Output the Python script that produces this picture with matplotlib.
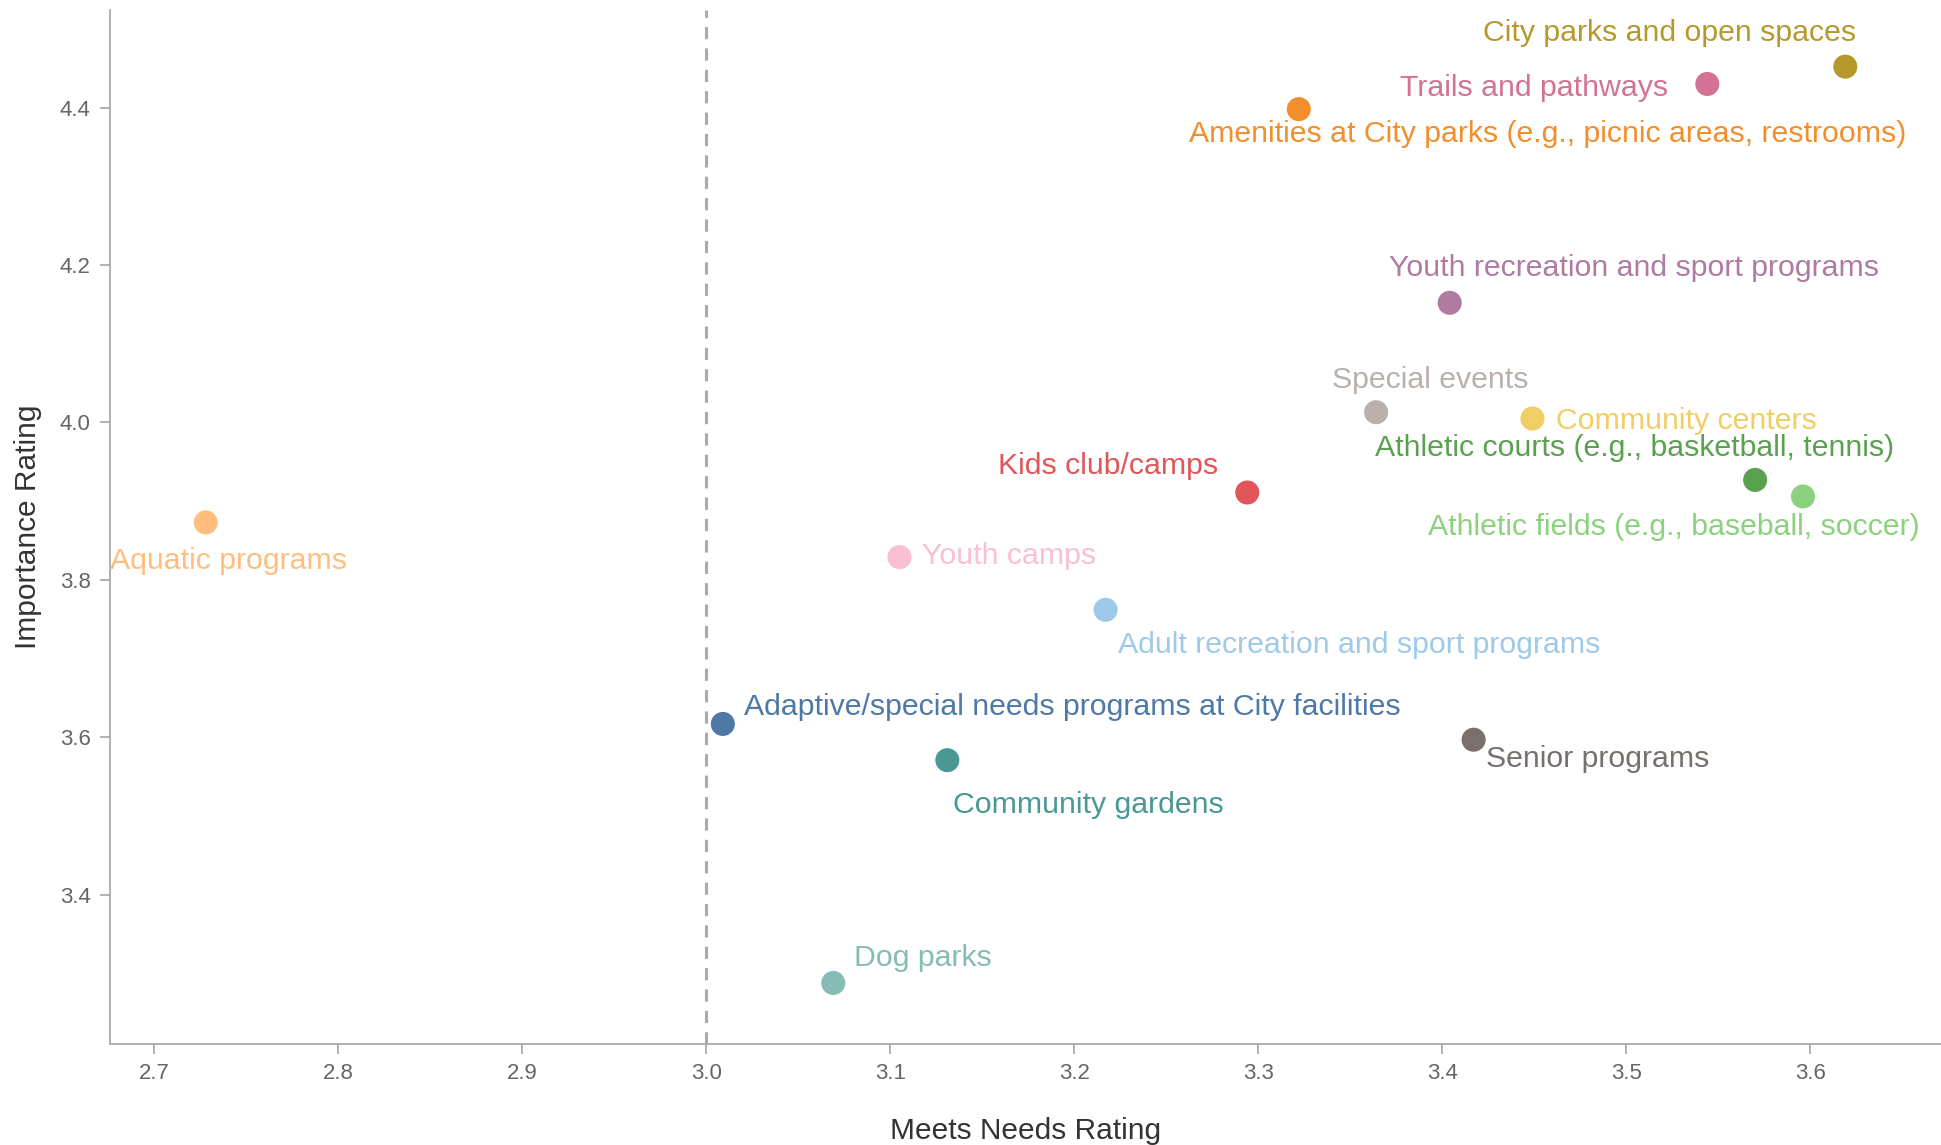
import matplotlib
matplotlib.use('Agg')
from matplotlib import pyplot as plt

plt.rcParams['font.family'] = ['Liberation Sans', 'DejaVu Sans']

services = ['City parks and open spaces', 'Trails and pathways',
            'Amenities at City parks (e.g., picnic areas, restrooms)',
            'Youth recreation and sport programs', 'Special events',
            'Community centers', 'Athletic courts (e.g., basketball, tennis)',
            'Athletic fields (e.g., baseball, soccer)', 'Kids club/camps',
            'Aquatic programs', 'Youth camps', 'Adult recreation and sport programs',
            'Adaptive/special needs programs at City facilities',
            'Community gardens', 'Senior programs', 'Dog parks']
meets_needs = [3.619, 3.544, 3.322, 3.404, 3.364, 3.449, 3.570, 3.596,
               3.294, 2.728, 3.105, 3.217, 3.009, 3.131, 3.417, 3.069]
importance = [4.452, 4.430, 4.398, 4.152, 4.013, 4.005, 3.927, 3.906,
              3.911, 3.873, 3.829, 3.762, 3.617, 3.571, 3.597, 3.288]
colors = ['#b6992d', '#d37295', '#f28e2b', '#b07aa1', '#bab0ac', '#f1ce63',
          '#59a14f', '#8cd17d', '#e15759', '#ffbe7d', '#fabfd2', '#9ecae9',
          '#4e79a7', '#499894', '#79706e', '#86bcb6']

# label placement: (dx, dy) in points, horizontal alignment
label_pos = {
    'City parks and open spaces': (8, 24, 'right'),
    'Trails and pathways': (-28, -3, 'right'),
    'Amenities at City parks (e.g., picnic areas, restrooms)': (-79, -18, 'left'),
    'Youth recreation and sport programs': (-44, 25, 'left'),
    'Special events': (-32, 23, 'left'),
    'Community centers': (17, -2, 'left'),
    'Athletic courts (e.g., basketball, tennis)': (100, 23, 'right'),
    'Athletic fields (e.g., baseball, soccer)': (84, -22, 'right'),
    'Kids club/camps': (-21, 19, 'right'),
    'Aquatic programs': (-69, -28, 'left'),
    'Youth camps': (16, 1, 'left'),
    'Adult recreation and sport programs': (9, -25, 'left'),
    'Adaptive/special needs programs at City facilities': (15, 12, 'left'),
    'Community gardens': (4, -32, 'left'),
    'Senior programs': (9, -14, 'left'),
    'Dog parks': (15, 18, 'left'),
}

fig = plt.figure(figsize=(19.41, 11.45), dpi=100)
ax = fig.add_axes([0.0567, 0.0886, 0.9433, 0.9027])

ax.axvline(3.0, color='#aaaaaa', linestyle=(0, (4, 3)), linewidth=2.2, zorder=1)
ax.scatter(meets_needs, importance, s=300, c=colors, edgecolors='none', zorder=3)

for name, x, y, col in zip(services, meets_needs, importance, colors):
    dx, dy, ha = label_pos[name]
    ax.annotate(name, (x, y), xytext=(dx, dy), textcoords='offset points',
                ha=ha, va='center', color=col, fontsize=21.8)

ax.set_xlim(2.676, 3.671)
ax.set_ylim(3.211, 4.524)
ax.set_xticks([2.7, 2.8, 2.9, 3.0, 3.1, 3.2, 3.3, 3.4, 3.5, 3.6])
ax.set_yticks([3.4, 3.6, 3.8, 4.0, 4.2, 4.4])
ax.set_xticklabels(['2.7', '2.8', '2.9', '3.0', '3.1', '3.2', '3.3', '3.4', '3.5', '3.6'])
ax.set_yticklabels(['3.4', '3.6', '3.8', '4.0', '4.2', '4.4'])

for side in ['top', 'right']:
    ax.spines[side].set_visible(False)
for side in ['left', 'bottom']:
    ax.spines[side].set_color('#aaaaaa')
    ax.spines[side].set_linewidth(1.3)
ax.tick_params(colors='#aaaaaa', labelcolor='#666666', labelsize=16, length=7, width=1.3, pad=7)

ax.set_xlabel('Meets Needs Rating', fontsize=21.5, color='#333333', labelpad=24)
ax.set_ylabel('Importance Rating', fontsize=21.5, color='#333333', labelpad=13)

fig.savefig('out.png', dpi=100)
